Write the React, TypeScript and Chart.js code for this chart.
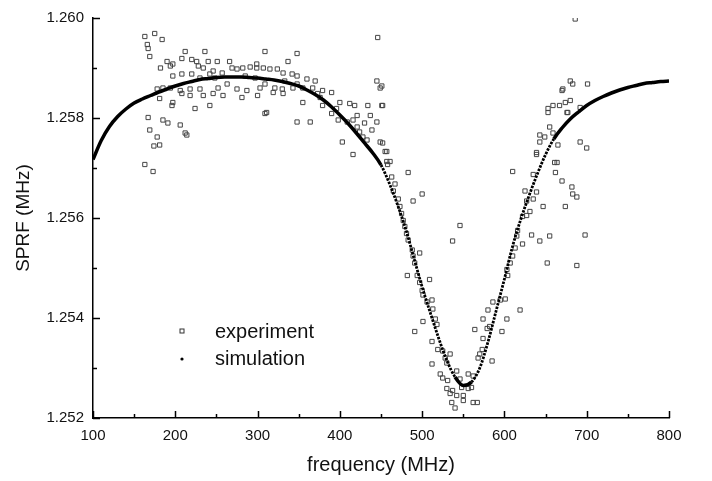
import React, { useEffect, useRef } from 'react';
import { Chart, registerables } from 'chart.js';

Chart.register(...registerables);

// Simulation curve (frequency in MHz, SPRF in MHz)
const simFreq = [
  100, 110, 120, 130, 140, 150, 160, 170, 180, 190,
  200, 210, 220, 230, 240, 250, 260, 270, 280, 290,
  300, 310, 320, 330, 340, 350, 360, 370, 380, 390,
  400, 410, 420, 430, 440, 450, 460, 470, 480, 490,
  500, 510, 520, 530, 540, 550, 560, 570, 580, 590,
  600, 610, 620, 630, 640, 650, 660, 670, 680, 690,
  700, 710, 720, 730, 740, 750, 760, 770, 780, 790, 800,
];
const simSprf = [
  1.25717, 1.25755, 1.25783, 1.25803, 1.25818, 1.2583, 1.25838, 1.25845, 1.25852, 1.25858,
  1.25864, 1.25869, 1.25873, 1.25877, 1.25879, 1.25881, 1.25882, 1.25882, 1.25882, 1.25881,
  1.2588, 1.25878, 1.25876, 1.25873, 1.25869, 1.25864, 1.25856, 1.25847, 1.25836, 1.25822,
  1.25806, 1.25789, 1.2577, 1.2575, 1.2573, 1.25706, 1.2567, 1.25627, 1.25578, 1.2552,
  1.25462, 1.2541, 1.2536, 1.25315, 1.25282, 1.25265, 1.25272, 1.253, 1.25352, 1.25415,
  1.25478, 1.25544, 1.25598, 1.25645, 1.25688, 1.25727, 1.25758, 1.2578, 1.25798, 1.25812,
  1.25825, 1.25835, 1.25843, 1.2585, 1.25856, 1.25861, 1.25865, 1.25869, 1.25871, 1.25873, 1.25874,
];

// Experimental points
const expFreq = [
  163, 175, 184, 166, 167, 169, 212, 236, 190, 197, 208, 220, 226, 240, 251, 266, 228, 234, 246, 257,
  269, 275, 197, 208, 220, 230, 242, 178, 185, 194, 206, 218, 230, 181, 197, 208, 218, 234, 246, 196,
  224, 242, 167, 185, 191, 206, 169, 178, 181, 214, 174, 163, 173, 212,
  309, 348, 446, 299, 337, 282, 291, 299, 307, 315, 324, 331, 342, 348, 360, 370, 252, 263, 275, 287,
  303, 309, 321, 330, 343, 355, 367, 379, 258, 281, 300, 319, 331, 355, 376, 390, 309, 348, 364, 379,
  396, 412, 418, 434, 452, 390, 398, 409, 416, 437, 445, 421, 424, 428, 433, 403, 416, 449, 457, 461,
  311, 445, 449,
  451, 451, 452, 455, 457, 458, 483, 463, 467, 465, 500, 489, 471, 473, 475, 477, 479, 481, 483, 488,
  489, 546, 537, 497, 482, 491, 494, 497, 500, 501, 506, 509, 512, 513, 516, 518, 501, 491, 512, 519,
  525, 528, 534, 530, 512, 522, 525, 531, 542, 546, 556, 562, 530, 537, 548, 556, 560, 534, 542, 550,
  562, 567, 536, 550, 540, 568, 570, 573, 574, 579, 582, 564, 585, 574, 580, 586, 595, 601, 597, 603,
  619, 603, 604, 607, 610, 613, 615, 616, 622, 627, 631, 622, 633, 643, 655, 652, 688, 698, 627, 635,
  639, 647, 625, 610, 635, 639, 664, 662, 670, 674, 683, 688, 682, 692, 700, 643, 649, 659, 665, 655,
  653, 659, 667, 674, 680, 676, 692, 680, 683, 701, 670, 686, 671, 653, 677, 643, 639, 661,
  182, 194, 248, 285, 297, 333, 348, 373, 400, 421, 430, 439,
];
const expSprf = [
  1.25963, 1.25969, 1.25957, 1.25947, 1.25939, 1.25923, 1.25933, 1.25933, 1.25913, 1.25908,
  1.25919, 1.25917, 1.25913, 1.25913, 1.25913, 1.25913, 1.25904, 1.259, 1.25894, 1.2589,
  1.259, 1.25898, 1.25884, 1.25888, 1.25888, 1.2588, 1.25888, 1.25858, 1.2586, 1.2586,
  1.25855, 1.25858, 1.25858, 1.25839, 1.25831, 1.25849, 1.25845, 1.25845, 1.25849, 1.25825,
  1.25819, 1.25825, 1.25801, 1.25796, 1.2579, 1.25786, 1.25776, 1.25762, 1.25746, 1.25766,
  1.25744, 1.25707, 1.25693, 1.2577,
  1.25933, 1.25929, 1.25961, 1.25908, 1.25913, 1.259, 1.25902, 1.259, 1.259, 1.25898,
  1.25898, 1.2589, 1.25888, 1.25884, 1.25878, 1.25874, 1.2586, 1.25868, 1.25858, 1.25855,
  1.2586, 1.25868, 1.2586, 1.25858, 1.2586, 1.2586, 1.2586, 1.25855, 1.25845, 1.25841,
  1.25845, 1.25851, 1.25849, 1.25831, 1.25841, 1.25851, 1.25809, 1.25792, 1.25792, 1.25825,
  1.25819, 1.25829, 1.25825, 1.25825, 1.25825, 1.25809, 1.25796, 1.25792, 1.25796, 1.25805,
  1.25792, 1.25782, 1.25772, 1.25762, 1.25756, 1.25752, 1.25727, 1.25752, 1.25733, 1.25713,
  1.25811, 1.25874, 1.2586,
  1.25864, 1.25825, 1.2575, 1.25733, 1.25713, 1.25707, 1.25691, 1.25682, 1.25668, 1.25654,
  1.25648, 1.25634, 1.25638, 1.25623, 1.25609, 1.25595, 1.25583, 1.25569, 1.25556, 1.25536,
  1.25524, 1.25585, 1.25554, 1.2553, 1.25485, 1.2551, 1.25485, 1.25471, 1.25455, 1.25446,
  1.25432, 1.25477, 1.25436, 1.25418, 1.25398, 1.25387, 1.25393, 1.25373, 1.25353, 1.25337,
  1.25334, 1.2532, 1.25328, 1.2531, 1.25308, 1.25288, 1.2528, 1.25275, 1.25294, 1.25278,
  1.25288, 1.25284, 1.25259, 1.25255, 1.25261, 1.25259, 1.25261, 1.25249, 1.25245, 1.25245,
  1.25231, 1.25231, 1.25231, 1.25235, 1.2522, 1.2532, 1.25328, 1.25337, 1.25359, 1.25379,
  1.25383, 1.25377, 1.25314, 1.25398, 1.25416, 1.25432, 1.25436, 1.25438, 1.25373, 1.25398,
  1.25416, 1.25497, 1.25485, 1.2551, 1.25524, 1.2554, 1.25564, 1.25575, 1.25603, 1.25605,
  1.25613, 1.25548, 1.25566, 1.25554, 1.25564, 1.2551, 1.25505, 1.25566, 1.25634, 1.25638,
  1.25652, 1.25623, 1.25654, 1.25693, 1.25687, 1.25727, 1.25711, 1.25691, 1.25674, 1.25623,
  1.25648, 1.25642, 1.25662, 1.25752, 1.2574, 1.25766, 1.25762, 1.2577, 1.25746, 1.25782,
  1.25819, 1.25825, 1.25825, 1.25831, 1.25835, 1.25811, 1.25821, 1.25874, 1.25868, 1.25868,
  1.25855, 1.25998, 1.25858, 1.25811, 1.25811, 1.25752, 1.25731, 1.25711,
  1.259, 1.25904, 1.2588, 1.25884, 1.2588, 1.25874, 1.25868, 1.25849, 1.25831, 1.25805, 1.2579, 1.25776,
];

const xTicks = [100, 200, 300, 400, 500, 600, 700, 800];
const xMinorTicks = [150, 250, 350, 450, 550, 650, 750];
const yTicks = [1.252, 1.254, 1.256, 1.258, 1.26];
const yMinorTicks = [1.253, 1.255, 1.257, 1.259];

const FONT = '"Liberation Sans", Arial, Helvetica, sans-serif';

// steep part of the resonance dip is drawn as a chain of dots
const isSteep = (c: any) =>
  c.p0.parsed.x >= 400 && Math.abs(c.p1.parsed.y - c.p0.parsed.y) > 0.00026;

const innerTicks = {
  id: 'innerTicks',
  afterDraw(chart: any) {
    const { ctx, chartArea, scales } = chart;
    const x = scales.x;
    const y = scales.y;
    ctx.save();
    ctx.strokeStyle = '#000';
    ctx.lineWidth = 1.5;
    const drawX = (vals: number[], len: number) => {
      vals.forEach((v) => {
        const px = Math.round(x.getPixelForValue(v)) + 0.5;
        ctx.beginPath();
        ctx.moveTo(px, chartArea.bottom);
        ctx.lineTo(px, chartArea.bottom - len);
        ctx.stroke();
      });
    };
    const drawY = (vals: number[], len: number) => {
      vals.forEach((v) => {
        const py = Math.round(y.getPixelForValue(v)) + 0.5;
        ctx.beginPath();
        ctx.moveTo(chartArea.left, py);
        ctx.lineTo(chartArea.left + len, py);
        ctx.stroke();
      });
    };
    drawX(xTicks, 7);
    drawX(xMinorTicks, 4);
    drawY(yTicks, 7);
    drawY(yMinorTicks, 4);
    ctx.restore();
  },
};

const innerLegend = {
  id: 'innerLegend',
  afterDraw(chart: any) {
    const { ctx, chartArea } = chart;
    const mx = chartArea.left + 89;
    const tx = chartArea.left + 122;
    const y1 = chartArea.top + 313;
    const y2 = chartArea.top + 341;
    ctx.save();
    ctx.strokeStyle = '#333';
    ctx.lineWidth = 1;
    ctx.strokeRect(mx - 2, y1 - 2, 4, 4);
    ctx.fillStyle = '#000';
    ctx.beginPath();
    ctx.arc(mx, y2, 1.6, 0, Math.PI * 2);
    ctx.fill();
    ctx.font = '20px ' + FONT;
    ctx.textBaseline = 'middle';
    ctx.textAlign = 'left';
    ctx.fillStyle = '#111';
    ctx.fillText('experiment', tx, y1 + 1);
    ctx.fillText('simulation', tx, y2);
    ctx.restore();
  },
};

export default function App() {
  const canvasRef = useRef<HTMLCanvasElement | null>(null);

  useEffect(() => {
    if (!canvasRef.current) return;
    const simData = simFreq.map((f, i) => ({ x: f, y: simSprf[i] }));
    const expData = expFreq.map((f, i) => ({ x: f, y: expSprf[i] }));
    const chart = new Chart(canvasRef.current, {
      type: 'scatter',
      data: {
        datasets: [
          {
            label: 'simulation',
            data: simData,
            showLine: true,
            borderColor: '#000',
            borderWidth: 3.5,
            pointRadius: 0,
            cubicInterpolationMode: 'monotone',
            segment: {
              borderDash: (c: any) => (isSteep(c) ? [2.5, 1.2] : undefined),
              borderWidth: (c: any) => (isSteep(c) ? 2.8 : 3.5),
            },
          } as any,
          {
            label: 'experiment',
            data: expData,
            pointStyle: 'rect',
            pointRadius: 3,
            borderWidth: 1,
            borderColor: '#444',
            backgroundColor: 'rgba(0,0,0,0)',
          },
        ],
      },
      options: {
        responsive: false,
        devicePixelRatio: 1,
        animation: false,
        events: [],
        layout: { padding: { top: 11, right: 43, bottom: 0, left: 0 } },
        plugins: {
          legend: { display: false },
          tooltip: { enabled: false },
        },
        scales: {
          x: {
            type: 'linear',
            min: 100,
            max: 800,
            afterBuildTicks: (s: any) => {
              s.ticks = xTicks.map((v) => ({ value: v }));
            },
            afterFit: (s: any) => {
              s.height = 63;
            },
            grid: { display: false, drawTicks: false },
            border: { display: true, color: '#000', width: 1.5 },
            ticks: {
              padding: 9,
              color: '#111',
              font: { family: FONT, size: 15 },
              maxRotation: 0,
              autoSkip: false,
            },
            title: {
              display: true,
              text: 'frequency (MHz)',
              color: '#111',
              font: { family: FONT, size: 20 },
              padding: { top: 0, bottom: 4 },
            },
          },
          y: {
            type: 'linear',
            min: 1.252,
            max: 1.26,
            afterBuildTicks: (s: any) => {
              s.ticks = yTicks.map((v) => ({ value: v }));
            },
            afterFit: (s: any) => {
              s.width = 93;
            },
            grid: { display: false, drawTicks: false },
            border: { display: true, color: '#000', width: 1.5 },
            ticks: {
              padding: 9,
              color: '#111',
              font: { family: FONT, size: 15 },
              autoSkip: false,
              callback: (v: any) => Number(v).toFixed(3),
            },
            title: {
              display: true,
              text: 'SPRF (MHz)',
              color: '#111',
              font: { family: FONT, size: 19 },
              padding: { top: 12, bottom: 0 },
            },
          },
        },
      },
      plugins: [innerTicks, innerLegend],
    });
    return () => chart.destroy();
  }, []);

  return (
    <div style={{ position: 'absolute', left: 0, top: 0, width: 712, height: 481, background: '#fff' }}>
      <canvas ref={canvasRef} width={712} height={481} />
    </div>
  );
}
